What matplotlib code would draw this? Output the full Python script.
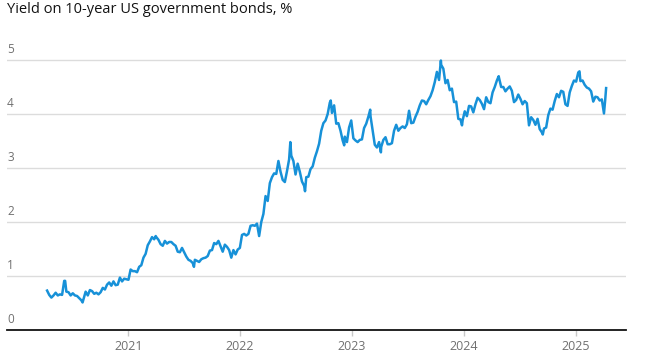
import matplotlib
matplotlib.use("Agg")
import matplotlib.pyplot as plt
import matplotlib.transforms as mtransforms
import pandas as pd

plt.rcParams['font.family'] = ['Open Sans', 'DejaVu Sans']

title = "Yield on 10-year US government bonds, %"

# Weekly (Friday) closes of the 10-year yield
y2020 = [0.73, 0.65, 0.60, 0.64, 0.69, 0.64, 0.66, 0.65, 0.91, 0.71, 0.70, 0.64,
         0.68, 0.64, 0.63, 0.59, 0.55, 0.57, 0.71, 0.64, 0.74, 0.72, 0.67, 0.69,
         0.66, 0.70, 0.78, 0.75, 0.84, 0.88, 0.82, 0.90, 0.83, 0.84, 0.97, 0.90,
         0.95, 0.94]
y2021 = [0.93, 1.12, 1.09, 1.09, 1.07, 1.17, 1.20, 1.34, 1.41, 1.57, 1.64, 1.72,
         1.68, 1.72, 1.67, 1.59, 1.56, 1.65, 1.60, 1.63, 1.63, 1.59, 1.56, 1.45,
         1.44, 1.52, 1.44, 1.36, 1.30, 1.28, 1.24, 1.30, 1.28, 1.26, 1.31, 1.33,
         1.34, 1.37, 1.47, 1.48, 1.61, 1.59, 1.65, 1.55, 1.45, 1.58, 1.54, 1.48,
         1.34, 1.48, 1.40, 1.49, 1.52]
y2022 = [1.76, 1.78, 1.75, 1.78, 1.93, 1.94, 1.93, 1.97, 1.74, 2.00, 2.15, 2.48,
         2.39, 2.72, 2.83, 2.90, 2.89, 3.13, 2.93, 2.78, 2.74, 2.94, 3.16, 3.23,
         3.13, 2.88, 3.08, 2.93, 2.75, 2.67, 2.83, 2.84, 2.98, 3.03, 3.19, 3.31,
         3.45, 3.69, 3.83, 3.88, 4.00, 4.21, 4.02, 4.16, 3.82, 3.83, 3.69, 3.51,
         3.58, 3.48, 3.75, 3.88]
y2023 = [3.55, 3.51, 3.48, 3.52, 3.53, 3.74, 3.82, 3.95, 3.96, 3.70, 3.43, 3.38,
         3.48, 3.39, 3.52, 3.57, 3.44, 3.44, 3.46, 3.69, 3.80, 3.69, 3.74, 3.77,
         3.74, 3.81, 4.06, 3.83, 3.84, 3.95, 4.04, 4.16, 4.25, 4.24, 4.18, 4.26,
         4.33, 4.44, 4.59, 4.78, 4.63, 4.91, 4.84, 4.57, 4.63, 4.44, 4.47, 4.22,
         4.23, 3.91, 3.90, 3.88]
y2024 = [4.05, 3.96, 4.15, 4.14, 4.03, 4.18, 4.30, 4.26, 4.19, 4.09, 4.31, 4.22,
         4.20, 4.40, 4.50, 4.62, 4.67, 4.50, 4.50, 4.42, 4.47, 4.51, 4.43, 4.22,
         4.26, 4.36, 4.28, 4.18, 4.24, 4.20, 3.79, 3.94, 3.89, 3.80, 3.91, 3.72,
         3.66, 3.73, 3.75, 3.98, 4.10, 4.08, 4.24, 4.37, 4.31, 4.43, 4.41, 4.18,
         4.15, 4.40, 4.52, 4.62]
y2025 = [4.60, 4.77, 4.61, 4.62, 4.54, 4.49, 4.47, 4.42, 4.23, 4.32, 4.31, 4.25,
         4.27, 4.01, 4.48]

# Notable daily extremes
extreme_dates = ["2020-06-08", "2020-08-04", "2021-03-31", "2021-08-03",
                 "2022-06-14", "2022-08-01", "2022-10-24", "2022-12-07",
                 "2023-03-02", "2023-04-06", "2023-10-19", "2023-12-27",
                 "2024-04-25", "2024-09-16", "2025-01-14", "2025-04-08"]
extreme_vals = [0.91, 0.51, 1.74, 1.17, 3.48, 2.57, 4.25, 3.42,
                4.08, 3.29, 4.99, 3.79, 4.70, 3.62, 4.79, 4.26]

x_ticks = ["2021", "2022", "2023", "2024", "2025"]
y_ticks = [0, 1, 2, 3, 4, 5]

weekly_vals = y2020 + y2021 + y2022 + y2023 + y2024 + y2025
weekly_dates = pd.date_range("2020-04-10", periods=len(weekly_vals), freq="W-FRI")
s = pd.Series(weekly_vals, index=weekly_dates)
s = pd.concat([s, pd.Series(extreme_vals, index=pd.to_datetime(extreme_dates))])
s = s.sort_index()

W, H = 647, 358
fig = plt.figure(figsize=(W / 100, H / 100), dpi=100)
top_val = 5.2
ax_left, ax_right = 7 / W, 626 / W
ax_bottom = 1 - 330 / H
ax_top = 1 - (330 - top_val * 54) / H
ax = fig.add_axes([ax_left, ax_bottom, ax_right - ax_left, ax_top - ax_bottom])

ax.plot(s.index, s.values, color="#1791d8", lw=1.8, solid_joinstyle="round", zorder=3)

ax.set_ylim(0, top_val)
ax.set_xlim(pd.Timestamp("2019-12-01"), pd.Timestamp("2025-06-15"))

for v in y_ticks[1:]:
    ax.axhline(v, color="#dcdcdc", lw=1, zorder=1)
for sp in ["top", "right", "left"]:
    ax.spines[sp].set_visible(False)
ax.spines["bottom"].set_color("#121212")
ax.spines["bottom"].set_linewidth(1.3)

ax.set_yticks([])
trans = mtransforms.blended_transform_factory(ax.transAxes, ax.transData)
for v in y_ticks:
    ax.annotate(str(v), xy=(0, v), xycoords=trans, xytext=(0, 3),
                textcoords="offset points", ha="left", va="bottom",
                fontsize=8.5, color="#707070")

ax.set_xticks([pd.Timestamp(f"{t}-01-01") for t in x_ticks])
ax.set_xticklabels(x_ticks)
ax.tick_params(axis="x", length=4, width=1, color="#c8c8c8", labelsize=9,
               labelcolor="#707070", pad=3)

fig.text(7 / W, 1 - 2 / H, title, ha="left", va="top", fontsize=10.5, color="#121212")

fig.savefig("out.png", dpi=100)
